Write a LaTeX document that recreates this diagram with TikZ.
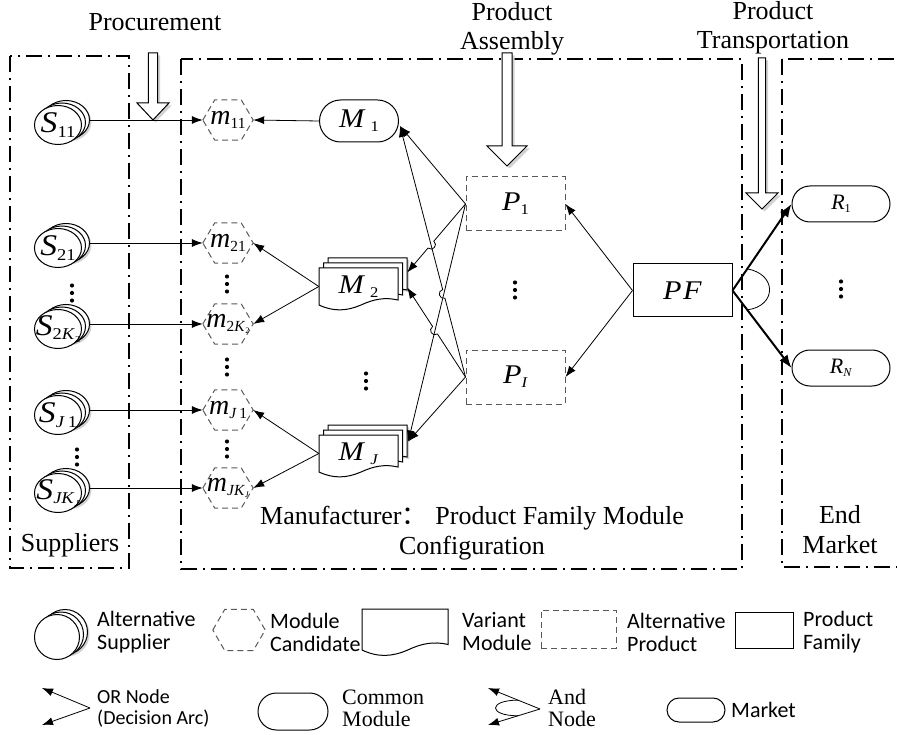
\documentclass[tikz,border=0pt]{standalone}
\usepackage{fontspec}
\usepackage{graphicx}
\setmainfont{Liberation Serif}
\newfontfamily\sansf{Carlito}
\newfontfamily\cjk{Noto Sans CJK SC}
\usetikzlibrary{arrows.meta,shapes.geometric,shapes.misc,calc}

\newcommand\sbs[1]{\raisebox{-0.15em}{\scalebox{0.55}{#1}}}
\newcommand\wide[1]{\scalebox{1.12}[1]{#1}}

\tikzset{
  frame/.style={line width=1.8pt, dash pattern=on 16pt off 6pt on 2pt off 6pt},
  arr/.style={-{Latex[length=11pt,width=8pt]}, line width=0.8pt},
  thickarr/.style={-{Latex[length=13pt,width=10pt]}, line width=2pt},
  suppb/.style={ellipse, draw, fill=white, line width=1pt, inner sep=0},
  hexd/.style={draw=black!65, dash pattern=on 6pt off 4pt, line width=1pt},
  altp/.style={rectangle, draw=black!65, dash pattern=on 6pt off 4pt, line width=1pt, minimum width=99, minimum height=54, inner sep=0},
  pfam/.style={rectangle, draw, line width=1pt, minimum width=99, minimum height=53, inner sep=0},
  commod/.style={rounded rectangle, draw, line width=1pt, minimum width=79, minimum height=42, inner sep=0},
  mkt/.style={rounded rectangle, draw, line width=1pt, minimum width=98, minimum height=36, inner sep=0},
  vnode/.style={rectangle, minimum width=79, minimum height=37, inner sep=0},
  Sfont/.style={font=\fontsize{30}{30}\selectfont, inner sep=0},
  mfont/.style={font=\fontsize{28}{28}\selectfont, inner sep=0},
  Mfont/.style={font=\fontsize{27}{27}\selectfont, inner sep=0},
  Rfont/.style={font=\fontsize{22}{22}\selectfont, inner sep=0},
  lab/.style={font=\fontsize{26}{29}\selectfont, align=center, inner sep=0},
  leg/.style={font=\sansf\fontsize{22}{23}\selectfont, align=left, inner sep=0, anchor=west},
  legs/.style={font=\fontsize{22}{22}\selectfont, align=left, inner sep=0, anchor=west},
  hopto/.style={bend left=90, looseness=1.7},
  dotf/.style={fill=black}
}

% stacked supplier circles: name, x, y, w, h, label
\newcommand\supp[6]{%
  \fill[gray!35] (#2+10,#3-3) ellipse[x radius=#4/2, y radius=#5/2];
  \node[suppb, minimum width=#4, minimum height=#5] (#1b) at (#2+8,#3-5) {};
  \node[suppb, minimum width=#4, minimum height=#5] (#1a) at (#2+4,#3-2.5) {};
  \node[suppb, minimum width=#4, minimum height=#5, label={[Sfont]center:#6}] (#1) at (#2,#3) {};
}
% dashed hexagon: name, x, y, w, h, label
\newcommand\hexn[6]{%
  \node[rectangle, minimum width=#4, minimum height=#5, inner sep=0, label={[mfont]center:#6}] (#1) at (#2,#3) {};
  \draw[hexd] (#1.west) -- ($(#1.north west)+(12,0)$) -- ($(#1.north east)+(-12,0)$) -- (#1.east)
    -- ($(#1.south east)+(-12,0)$) -- ($(#1.south west)+(12,0)$) -- cycle;
}
% document shape: x0, y0, w, h, style
\newcommand\vshp[5]{%
  \begin{scope}[shift={(#1,#2)}, xscale=#3, yscale=#4]
    \path[#5] (0,0) -- (1,0) -- (1,0.865) .. controls (0.835,0.784) and (0.696,0.838) .. (0.532,1)
      .. controls (0.354,1.162) and (0.19,1.189) .. (0,1) -- cycle;
  \end{scope}}
% stacked variant module: name, cx, cy, label
\newcommand\vmod[4]{%
  \vshp{#2-39.5+11}{#3-18.5-8}{79}{37}{fill=gray!35}
  \vshp{#2-39.5+9}{#3-18.5-10}{79}{37}{draw,fill=white,line width=1pt}
  \vshp{#2-39.5+4.5}{#3-18.5-5}{79}{37}{draw,fill=white,line width=1pt}
  \vshp{#2-39.5}{#3-18.5}{79}{37}{draw,fill=white,line width=1pt}
  \node[vnode, label={[Mfont]center:#4}] (#1) at (#2,#3) {};
}
% hollow block arrow: x, ytop, yhead, ytip, half shaft, half head
\newcommand\barrow[6]{%
  \fill[gray!35, shift={(2.5,2.5)}] (#1-#5,#2) -- (#1-#5,#3) -- (#1-#6,#3) -- (#1,#4) -- (#1+#6,#3) -- (#1+#5,#3) -- (#1+#5,#2) -- cycle;
  \draw[fill=white, line width=1pt] (#1-#5,#2) -- (#1-#5,#3) -- (#1-#6,#3) -- (#1,#4) -- (#1+#6,#3) -- (#1+#5,#3) -- (#1+#5,#2) -- cycle;
}
\newcommand\vdts[2]{%
  \fill[dotf] (#1,#2-7.5) circle[radius=2.1];
  \fill[dotf] (#1,#2) circle[radius=2.1];
  \fill[dotf] (#1,#2+7.5) circle[radius=2.1];
}

\begin{document}
\begin{tikzpicture}[x=1pt,y=-1pt]
\useasboundingbox (0,0) rectangle (897,735);

% frames
\draw[frame] (10,56) rectangle (129,568);
\draw[frame] (181,59) rectangle (742,569);
\draw[frame] (782,59) rectangle (915,567);

% headings
\node[lab] (tproc) at (155,22) {Procurement};
\node[lab] (tasm) at (512,29) {Product\\Assembly};
\node[lab] (ttr) at (773,28) {Product\\Transportation};

% block arrows
\barrow{153}{53}{103}{120}{4.7}{16}
\barrow{507}{53}{146}{166}{5}{20}
\barrow{762}{58}{193}{209}{3.6}{16}

% suppliers
\supp{S11}{58}{125}{47}{39}{\wide{\textit{S}\sbs{11}}}
\supp{S21}{58}{248}{47}{39}{\wide{\textit{S}\sbs{21}}}
\supp{S2K}{58}{329}{47}{39}{\wide{\textit{S}\sbs{2\textit{K}\sbs{2}}}}
\supp{SJ1}{58}{415}{47}{39}{\wide{\textit{S}\sbs{\textit{J}\,1}}}
\supp{SJK}{58}{493}{47}{39}{\wide{\textit{S}\sbs{\textit{JK}\sbs{\textit{J}}}}}
\vdts{72}{293}
\vdts{77}{457}

% module candidates
\hexn{m11}{228}{120}{50}{40}{\textit{m}\sbs{11}}
\hexn{m21}{228}{243}{50}{40}{\textit{m}\sbs{21}}
\hexn{m2K}{228}{324}{50}{40}{\textit{m}\sbs{2\textit{K}\sbs{2}}}
\hexn{mJ1}{228}{410}{50}{40}{\textit{m}\sbs{\textit{J}\,1}}
\hexn{mJK}{228}{488}{50}{40}{\textit{m}\sbs{\textit{JK}\sbs{\textit{J}}}}
\vdts{227}{284}
\vdts{227}{367}
\vdts{227}{449}

% modules
\node[commod, label={[Mfont]center:\wide{\textit{M}\,\sbs{1}}}] (M1) at (359,121) {};
\vmod{M2}{358.5}{286.5}{\wide{\textit{M}\,\sbs{2}}}
\vmod{MJ}{358.5}{453.5}{\wide{\textit{M}\,\sbs{\textit{J}}}}
\vdts{366}{381}

% products
\node[altp, label={[Mfont]center:\wide{\textit{P}\sbs{1}}}] (P1) at (515.5,204) {};
\node[altp, label={[Mfont]center:\wide{\textit{P}\sbs{\textit{I}}}}] (PI) at (515.5,377) {};
\vdts{515}{290}
\node[pfam, font=\fontsize{27}{27}\selectfont] (PF) at (682.5,290.5) {\wide{\textit{P\kern1.5pt F}}};

% markets
\node[mkt, label={[Rfont]center:\textit{R}\sbs{1}}] (R1) at (841,204) {};
\node[mkt, label={[Rfont]center:\textit{R}\sbs{\textit{N}}}] (RN) at (841,368) {};
\vdts{841}{289}

% supplier -> module candidate
\draw[arr] (S11b.east) -- (m11.west);
\draw[arr] (S21b.east) -- (m21.west);
\draw[arr] (S2Kb.east) -- (m2K.west);
\draw[arr] (SJ1b.east) -- (mJ1.west);
\draw[arr] (SJKb.east) -- (mJK.west);

% module -> candidates
\draw[arr] (M1.west) -- (m11.east);
\draw[arr] (M2.west) -- (m21.east);
\draw[arr] (M2.west) -- (m2K.east);
\draw[arr] (MJ.west) -- (mJ1.east);
\draw[arr] (MJ.west) -- (mJK.east);

% product -> modules
\coordinate (p1w) at (P1.west);
\coordinate (piw) at (PI.west);
\coordinate (m1a) at ($(M1.east)+(1,5)$);
\coordinate (m2a) at ($(M2.east)+(9,-14)$);
\coordinate (m2b) at ($(M2.east)+(9,1)$);
\coordinate (mja) at ($(MJ.east)+(10,-12)$);
\coordinate (X1) at (intersection of piw--m1a and p1w--mja);
\coordinate (X2) at (intersection of p1w--m2a and piw--m1a);
\coordinate (X3) at (intersection of piw--m2b and p1w--mja);

\draw[arr] (p1w) -- (m1a);
\draw[arr] (piw) -- ($(X1)!4.5pt!(piw)$) to[hopto] ($(X1)!4.5pt!(m1a)$) -- (m1a);
\draw[arr] (p1w) -- ($(X2)!4.5pt!(p1w)$) to[hopto] ($(X2)!4.5pt!(m2a)$) -- (m2a);
\draw[arr] (p1w) -- (mja);
\draw[arr] (piw) -- ($(X3)!4.5pt!(piw)$) to[hopto] ($(X3)!4.5pt!(m2b)$) -- (m2b);
\draw[arr] (piw) -- (mja);

% family -> products
\draw[arr] (PF.west) -- (P1.east);
\draw[arr] (PF.west) -- (PI.east);

% family -> markets (AND)
\draw[thickarr] (PF.east) -- (R1.west);
\draw[thickarr] (PF.east) -- (RN.west);
\draw[line width=0.8pt] ($(PF.east)!0.25!(R1.west)$) .. controls (777,274) and (777,306) .. ($(PF.east)!0.25!(RN.west)$);

% frame labels
\node[lab] (tsup) at (70,545) {Suppliers};
\node[lab, font=\fontsize{26}{30}\selectfont] (tman) at (472,533) {Manufacturer{\cjk ：}\hspace{0.3em}Product Family Module\\Configuration};
\node[lab, font=\fontsize{26}{30}\selectfont] (tend) at (840,530) {End\\Market};

% legend row 1
\supp{LS}{57}{637}{45}{45}{}
\node[leg] (lt1) at (97,632) {Alternative\\Supplier};
\hexn{LM}{239}{630}{52}{41}{}
\node[leg] (lt2) at (270,632) {Module\\Candidate};
\vshp{362}{609}{86}{41}{draw,fill=white,line width=1pt}
\node[leg] (lt3) at (462,632) {Variant\\Module};
\node[altp, minimum width=75, minimum height=38] (LP) at (578.5,629) {};
\node[leg] (lt4) at (627,632) {Alternative\\Product};
\node[pfam, minimum width=58, minimum height=36] (LF) at (764,630) {};
\node[leg] (lt5) at (803,632) {Product\\Family};

% legend row 2
\coordinate (ora) at (90,708);
\coordinate (or1) at (42,688);
\coordinate (or2) at (42,725);
\draw[arr] (ora) -- (or1);
\draw[arr] (ora) -- (or2);
\node[leg, font=\sansf\fontsize{20}{21}\selectfont] (lt6) at (97,708) {OR Node\\(Decision Arc)};
\node[commod, minimum width=70, minimum height=37] (LC) at (293,711.5) {};
\node[legs] (lt7) at (342,708) {Common\\Module};
\coordinate (anda) at (540,709);
\coordinate (and1) at (488,688);
\coordinate (and2) at (488,725);
\draw[arr] (anda) -- (and1);
\draw[arr] (anda) -- (and2);
\draw[line width=0.8pt] ($(anda)!0.42!(and1)$) .. controls (488,700) and (488,716) .. ($(anda)!0.42!(and2)$);
\node[legs] (lt8) at (548,708) {And\\Node};
\node[mkt, minimum width=58, minimum height=24] (LK) at (696,710) {};
\node[leg] (lt9) at (731,710) {Market};
\end{tikzpicture}
\end{document}
